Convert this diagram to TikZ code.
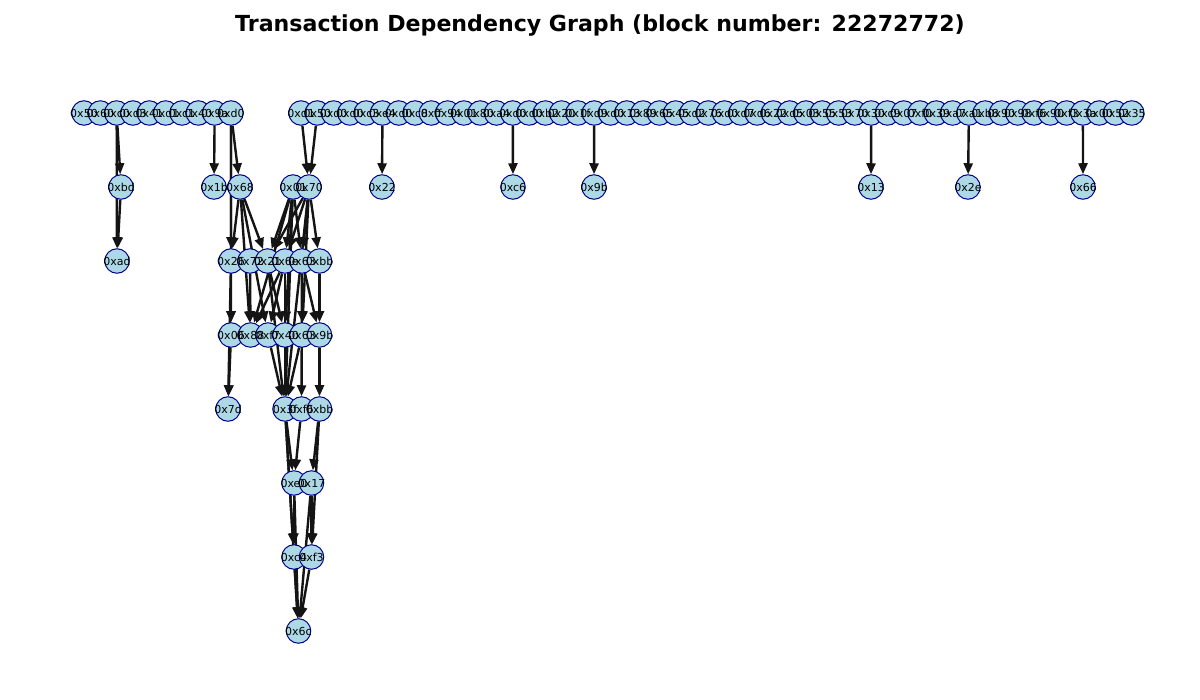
\documentclass[tikz,border=0pt]{standalone}
\usepackage{fontspec}
\setmainfont{DejaVu Sans}
\usetikzlibrary{arrows.meta}
\usetikzlibrary{backgrounds}
\definecolor{nodefill}{RGB}{173,216,230}
\definecolor{nodeline}{RGB}{0,0,139}
\tikzset{
  tx/.style={circle,draw=nodeline,fill=nodefill,line width=1pt,minimum size=24.5pt,inner sep=0pt},
  lbl/.style={inner sep=0pt,font=\fontsize{11}{13}\selectfont},
  dep/.style={->,>={Stealth[inset=0pt,length=11pt,width=9pt]},line width=2.4pt,black!92}
}
\begin{document}
\begin{tikzpicture}[x=1pt,y=-1pt]
		\useasboundingbox (0,0) rectangle (1200,700);
		\node[font=\bfseries\fontsize{22.1}{26}\selectfont](title) at (600,25){Transaction Dependency Graph (block number: 22272772)};
		% top row
		\def\rowa{50,60,c0,d3,41,d1,c1,40,9a,d0}
		\def\rowb{d1,50,d0,d0,c3,e4,d0,c8,ff,94,01,80,a4,d0,d0,b2,20,1f,d9,d0,13,89,65,45,d2,76,d0,d7,d6,22,d5,03,55,53,70,30,c9,07,f0,39,a7,a1,b8,90,98,f6,90,f3,3a,00,52,35}
		\foreach \t [count=\i] in \rowa \node[tx](a\i) at ({84+16.33*(\i-1)},113){};
		\foreach \t [count=\i] in \rowb \node[tx](b\i) at ({301+16.29*(\i-1)},113){};
		% lower rows
		\def\rest{nbd/121/187/bd, n1b/214/187/1b, n68/240/187/68, n01/293/187/01, n70/309/187/70, n22/382/187/22, nc6/513/187/c6, n9b/594/187/9b, n13/871/187/13, n2e/968/187/2e, n66/1083/187/66,
			nad/117/261/ad, n26/231/261/26, n72/250/261/72, n21/267.5/261/21, n6e/285/261/6e, n63/302/261/63, nbb/319.5/261/bb,
			n06/231/335/06, n88/250.5/335/88, nf7/268/335/f7, n40/285/335/40, n63d/302/335/63, n9bd/319.5/335/9b,
			n7d/228/409/7d, n3f/285/409/3f, nf6/301.5/409/f6, nbbe/319.5/409/bb,
			ne0/294/483/e0, n17/311.5/483/17,
			nc4/294/557/c4, nf3/311.5/557/f3,
			n6c/298.5/631/6c}
		\foreach \n/\x/\y/\t in \rest \node[tx](\n) at (\x,\y){};
		% labels over the circles
		\foreach \t [count=\i] in \rowa \node[lbl] at (a\i){0x\t};
		\foreach \t [count=\i] in \rowb \node[lbl] at (b\i){0x\t};
		\foreach \n/\x/\y/\t in \rest \node[lbl] at (\n){0x\t};
		% dependencies
		\begin{scope}[on background layer]
		\foreach \s/\e in {a3/nbd, a3/nad, nbd/nad, a9/n1b, a10/n68, a10/n26, a10/n06,
			b1/n70, b2/n70, b6/n22, b14/nc6, b19/n9b, b36/n13, b42/n2e, b49/n66,
			n68/n26, n68/n88, n68/n21, n68/nf7,
			n01/n21, n01/n6e, n01/n63, n01/n88, n01/n40, n01/n3f,
			n70/n21, n70/n6e, n70/n63, n70/nbb, n70/n63d, n70/n3f,
			n26/n06, n26/n7d, n72/n88, n21/n40, n21/n3f,
			n6e/nf7, n6e/n88, n6e/n3f, n63/n63d, n63/nf6, n63/n9bd, nbb/n9bd,
			n06/n7d, nf7/n3f, n40/n3f, n63d/n3f, n9bd/nbbe,
			n3f/nc4, n3f/n6c, n3f/ne0, nf6/ne0, nbbe/n17, nbbe/nf3,
			ne0/nc4, ne0/n6c, n17/nf3, n17/n6c, nc4/n6c, nf3/n6c}
			\draw[dep] (\s) -- (\e);
		\end{scope}
	\end{tikzpicture}
\end{document}
